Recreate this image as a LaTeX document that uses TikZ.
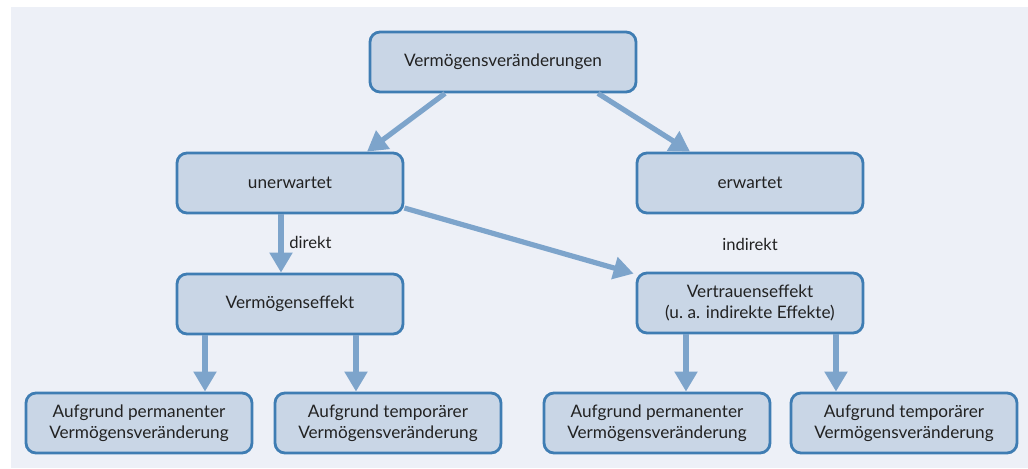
\documentclass[tikz,border=0pt]{standalone}
\usepackage{fontspec}
\setmainfont{Lato}
\usepackage{xcolor}
\usetikzlibrary{arrows.meta, positioning, calc}
\definecolor{panelBg}{HTML}{EDF0F7}
\definecolor{boxFill}{HTML}{C9D6E6}
\definecolor{boxLine}{HTML}{3F7DB3}
\definecolor{flowArrow}{HTML}{7DA4CB}
\definecolor{ink}{HTML}{222222}

\begin{document}
\begin{tikzpicture}[
  x=0.5pt, y=-0.5pt,
  every node/.style={font=\fontsize{8.6}{10.3}\selectfont, color=ink},
  tbox/.style={
    rectangle, rounded corners=5pt,
    fill=boxFill, draw=boxLine, line width=1.4pt,
    minimum width=113pt, minimum height=30pt,
    align=center, inner sep=2pt
  },
  arr/.style={-{Triangle[length=10pt, width=11pt]}, draw=flowArrow, line width=2.6pt},
  edgeLabel/.style={font=\fontsize{8.3}{10}\selectfont, inner sep=1pt}
]
% --- background panel ---
\fill[panelBg] (11, 7) rectangle (1028, 468);
\useasboundingbox (0, 0) rectangle (1028, 468);

% --- boxes ---
\node[tbox, minimum width=133pt] (root) at (503, 62) {Vermögensveränderungen};

\node[tbox] (unexp) at (290, 183) {unerwartet};
\node[tbox] (exp)   at (750, 183) {erwartet};

\node[tbox] (wealth) at (290, 304) {Vermögenseffekt};
\node[tbox] (trust)  at (750, 303) {Vertrauenseffekt\\(u.\ a. indirekte Effekte)};

\node[tbox] (wperm) at (139, 423) {Aufgrund permanenter\\Vermögensveränderung};
\node[tbox] (wtemp) at (388, 423) {Aufgrund temporärer\\Vermögensveränderung};
\node[tbox] (tperm) at (657, 423) {Aufgrund permanenter\\Vermögensveränderung};
\node[tbox] (ttemp) at (904, 423) {Aufgrund temporärer\\Vermögensveränderung};

% --- arrow end points ---
\coordinate (r1) at ($(root.south)+(-58,0)$);
\coordinate (u1) at ($(unexp.north)+(77,0)$);
\coordinate (r2) at ($(root.south)+(95,0)$);
\coordinate (e1) at ($(exp.north)+(-60,0)$);
\coordinate (u2) at ($(unexp.south)+(-9,0)$);
\coordinate (w0) at ($(wealth.north)+(-9,0)$);
\coordinate (u3) at ($(unexp.east)+(0,25)$);
\coordinate (t0) at ($(trust.north west)+(-2,2)$);
\coordinate (w1) at ($(wealth.south)+(-85,0)$);
\coordinate (b1) at ($(wperm.north)+(66,0)$);
\coordinate (w2) at ($(wealth.south)+(66,0)$);
\coordinate (b2) at ($(wtemp.north)+(-32,0)$);
\coordinate (t1) at ($(trust.south)+(-64,0)$);
\coordinate (b3) at ($(tperm.north)+(29,0)$);
\coordinate (t2) at ($(trust.south)+(86,0)$);
\coordinate (b4) at ($(ttemp.north)+(-68,0)$);

% --- arrows ---
\draw[arr] (r1) -- (u1);
\draw[arr] (r2) -- (e1);
\draw[arr] (u2) -- (w0);
\node[edgeLabel, anchor=west] (direkt) at (287, 242) {direkt};
\draw[arr] (u3) -- (t0);
\node[edgeLabel] (indirekt) at (750, 244) {indirekt};
\draw[arr] (w1) -- (b1);
\draw[arr] (w2) -- (b2);
\draw[arr] (t1) -- (b3);
\draw[arr] (t2) -- (b4);

\end{tikzpicture}
\end{document}
